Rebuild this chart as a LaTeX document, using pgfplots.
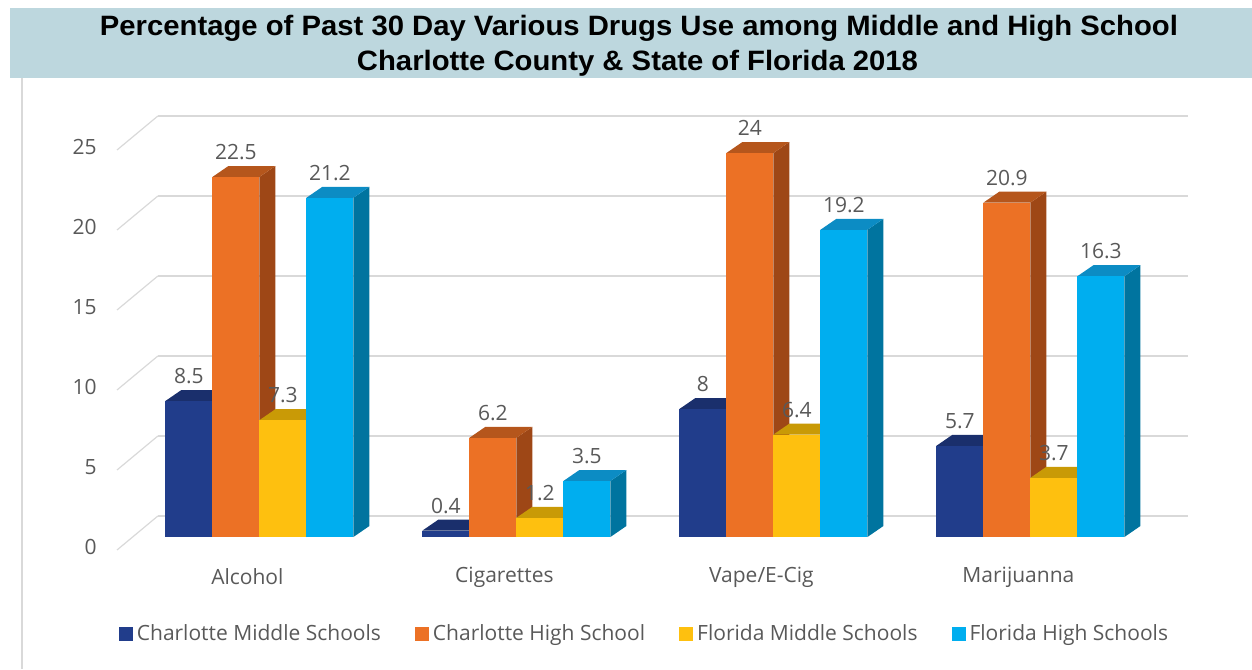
\documentclass[border=0pt]{standalone}
\usepackage{fontspec}
\setmainfont{Open Sans}
\newfontfamily\titlefont{Liberation Sans}
\usepackage{graphicx}
\usepackage{pgfplots}
\pgfplotsset{compat=1.18}
\definecolor{banner}{HTML}{BDD7DE}
\definecolor{labgray}{HTML}{595959}
\definecolor{gridgray}{HTML}{D9D9D9}
\definecolor{frameg}{HTML}{D9D9D9}
\definecolor{bF}{HTML}{213D8B}\definecolor{bT}{HTML}{1A2F6C}\definecolor{bS}{HTML}{162A5E}
\definecolor{oF}{HTML}{EC7125}\definecolor{oT}{HTML}{B5561C}\definecolor{oS}{HTML}{9E4716}
\definecolor{yF}{HTML}{FEC00F}\definecolor{yT}{HTML}{C99A06}\definecolor{yS}{HTML}{B08505}
\definecolor{cF}{HTML}{00AEEF}\definecolor{cT}{HTML}{0C8CC4}\definecolor{cS}{HTML}{00749F}
% 3D bar: #1 x centre, #2 value, #3 front, #4 top, #5 side
\newcommand\tdbar[5]{%
 \pgfmathsetmacro\xl{#1-0.09145}%
 \pgfmathsetmacro\xr{#1+0.09145}%
 \pgfmathsetmacro\xrb{#1+0.09145+0.0623}%
 \pgfmathsetmacro\xlb{#1-0.09145+0.0623}%
 \pgfmathsetmacro\vt{#2+0.6875}%
 \edef\doit{%
  \noexpand\addplot[fill=#5,draw=none,forget plot] coordinates {(\xr,0) (\xrb,0.6875) (\xrb,\vt) (\xr,#2)};
  \noexpand\addplot[fill=#4,draw=none,forget plot] coordinates {(\xl,#2) (\xlb,\vt) (\xrb,\vt) (\xr,#2)};
  \noexpand\addplot[fill=#3,draw=none,forget plot] coordinates {(\xl,0) (\xl,#2) (\xr,#2) (\xr,0)};
 }\doit}
\newcommand\gline[1]{%
 \pgfmathsetmacro\ga{#1+1.3125}\pgfmathsetmacro\gb{#1-0.8125}%
 \edef\doit{%
  \noexpand\addplot[gridgray,line width=1pt,forget plot] coordinates {(-0.395,\ga) (3.613,\ga)};
  \noexpand\addplot[gridgray,line width=0.6pt,forget plot] coordinates {(-0.554,\gb) (-0.395,\ga)};
 }\doit}
\begin{document}
\begin{tikzpicture}
\path[use as bounding box] (0,0) rectangle (626pt,334.5pt);
\fill[banner] (5pt,295.5pt) rectangle (626pt,330.5pt);
\draw[frameg,line width=1pt] (11pt,295.5pt) -- (11pt,0pt);
\node[inner sep=0pt] at (319.5pt,320.5pt) {\resizebox{539pt}{\height}{\fontsize{14}{14}\titlefont\bfseries Percentage of Past 30 Day Various Drugs Use among Middle and High School}};
\node[inner sep=0pt] at (318.75pt,303pt) {\resizebox{280.5pt}{\height}{\fontsize{14}{14}\titlefont\bfseries Charlotte County \& State of Florida 2018}};
\begin{axis}[
  at={(58.5pt,58pt)}, anchor=south west,
  scale only axis, width=536.5pt, height=224pt,
  xmin=-0.554, xmax=3.621, ymin=-1, ymax=27,
  clip=false,
  axis line style={draw=none}, tick style={draw=none}, major tick length=0pt,
  ytick={0,5,10,15,20,25},
  xtick={0,1,2,3},
  xticklabels={Alcohol,Cigarettes,Vape/E-Cig,Marijuanna},
  /pgf/number format/assume math mode=true,
  yticklabel style={font=\fontsize{10.5}{12}\selectfont, text=labgray, anchor=east, inner sep=0pt, xshift=-10pt, yshift=-5pt},
  xticklabel style={font=\fontsize{10.5}{12}\selectfont, text=labgray, anchor=center, inner sep=0pt, xshift=-6pt, yshift=-12pt},
  legend image code/.code={\fill[#1] (0pt,-3.3pt) rectangle (6.6pt,3.3pt);},
  legend style={at={(0.4925,-0.1808)}, anchor=center, draw=none, fill=none, inner sep=0pt,
    font=\fontsize{10.5}{12}\selectfont, text=labgray, legend columns=4,
    /tikz/every even column/.append style={column sep=15pt}},
  legend cell align=left,
]
\gline{0}\gline{5}\gline{10}\gline{15}\gline{20}\gline{25}
% Alcohol
\tdbar{-0.2743}{8.5}{bF}{bT}{bS}
\tdbar{-0.0914}{22.5}{oF}{oT}{oS}
\tdbar{0.0914}{7.3}{yF}{yT}{yS}
\tdbar{0.2743}{21.2}{cF}{cT}{cS}
% Cigarettes
\tdbar{0.7257}{0.4}{bF}{bT}{bS}
\tdbar{0.9086}{6.2}{oF}{oT}{oS}
\tdbar{1.0914}{1.2}{yF}{yT}{yS}
\tdbar{1.2743}{3.5}{cF}{cT}{cS}
% Vape
\tdbar{1.7257}{8}{bF}{bT}{bS}
\tdbar{1.9086}{24}{oF}{oT}{oS}
\tdbar{2.0914}{6.4}{yF}{yT}{yS}
\tdbar{2.2743}{19.2}{cF}{cT}{cS}
% Marijuanna
\tdbar{2.7257}{5.7}{bF}{bT}{bS}
\tdbar{2.9086}{20.9}{oF}{oT}{oS}
\tdbar{3.0914}{3.7}{yF}{yT}{yS}
\tdbar{3.2743}{16.3}{cF}{cT}{cS}
% data labels
\pgfplotsset{lbl/.style={draw=none, mark=none, forget plot, nodes near coords, point meta=explicit symbolic,
  nodes near coords style={anchor=center, yshift=12.5pt, font=\fontsize{10.5}{12}\selectfont, text=labgray, inner sep=0pt}}}
\addplot[lbl] coordinates {(-0.2743,8.5) [8.5] (0.7257,0.4) [0.4] (1.7257,8) [8] (2.7257,5.7) [5.7]};
\addplot[lbl] coordinates {(-0.0914,22.5) [22.5] (0.9086,6.2) [6.2] (1.9086,24) [24] (2.9086,20.9) [20.9]};
\addplot[lbl] coordinates {(0.0914,7.3) [7.3] (1.0914,1.2) [1.2] (2.0914,6.4) [6.4] (3.0914,3.7) [3.7]};
\addplot[lbl] coordinates {(0.2743,21.2) [21.2] (1.2743,3.5) [3.5] (2.2743,19.2) [19.2] (3.2743,16.3) [16.3]};
\addlegendimage{bF}
\addlegendimage{oF}
\addlegendimage{yF}
\addlegendimage{cF}
\legend{Charlotte Middle Schools, Charlotte High School, Florida Middle Schools, Florida High Schools}
\end{axis}
\end{tikzpicture}
\end{document}
